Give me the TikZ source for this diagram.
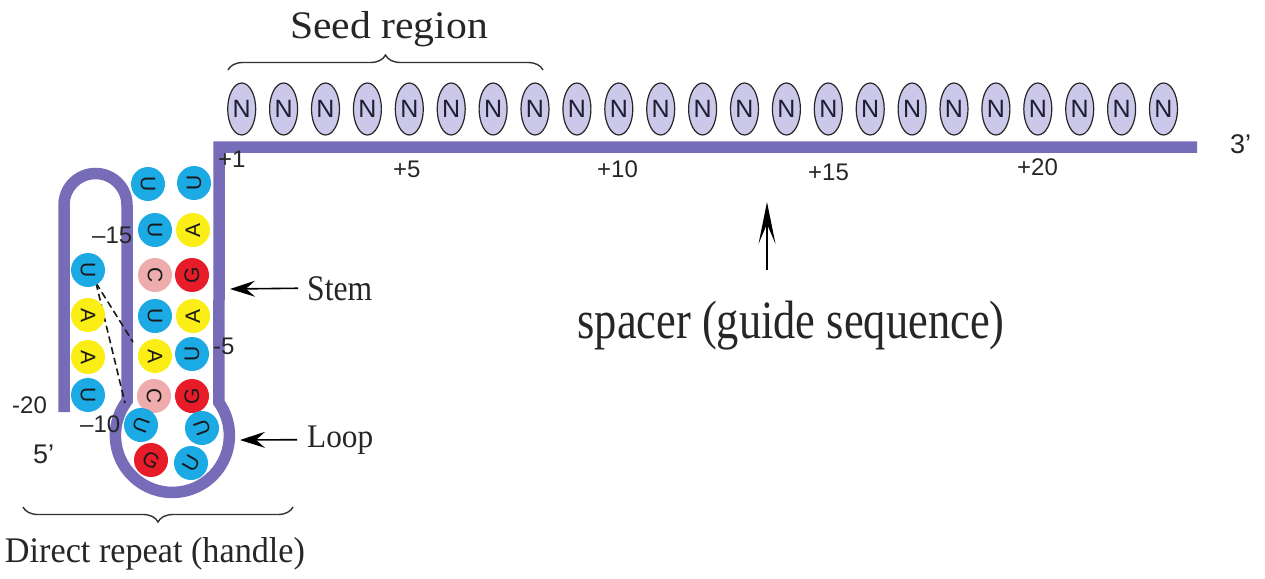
\documentclass[tikz,border=0pt]{standalone}
\usepackage{fontspec}
\setmainfont{Liberation Serif}
\setsansfont{Liberation Sans}
\usetikzlibrary{arrows.meta,decorations.pathreplacing,shapes.geometric}

\definecolor{strand}{RGB}{118,108,184}
\definecolor{ntlav}{RGB}{204,200,234}
\definecolor{ublue}{RGB}{28,170,228}
\definecolor{ayellow}{RGB}{250,238,22}
\definecolor{gred}{RGB}{232,28,40}
\definecolor{cpink}{RGB}{238,172,172}
\definecolor{inkdark}{RGB}{30,30,50}

\begin{document}
\begin{tikzpicture}[x=1pt,y=-1pt,
  strandline/.style={line width=11.5pt, draw=strand, line join=miter},
  nbase/.style={ellipse, draw=black!85, line width=1.2pt, fill=ntlav,
    minimum width=28pt, minimum height=52pt, inner sep=0pt,
    font=\sffamily\fontsize{25}{25}\selectfont, text=inkdark},
  nt/.style={circle, minimum size=34pt, inner sep=0pt,
    font=\sffamily\fontsize{21}{21}\selectfont, text=black!90},
  numlbl/.style={anchor=base west, inner sep=0pt,
    font=\sffamily\fontsize{24}{24}\selectfont, text=black!85},
  serif/.style={inner sep=0pt, text=black!85},
  ptr/.style={line width=1.6pt, -{Stealth[length=25pt,width=16pt,inset=9pt]}},
  uptr/.style={line width=1.5pt, -{Stealth[length=42pt,width=17pt,inset=20pt]}},
  pairdash/.style={line width=1.6pt, dash pattern=on 7pt off 4pt, black!90},
  bracket/.style={line width=1.4pt, black!80,
    decorate, decoration={brace, amplitude=15pt}}
]
\useasboundingbox (0,0) rectangle (1265,578);

% RNA backbone: 5' hairpin, loop, stem and spacer
\draw[strandline] (64,412) -- (64,205)
  arc[start angle=180, end angle=360, radius=31.5] -- (127,401)
  arc[start angle=217.2, end angle=-35.4, radius=57] -- (219.2,147)
  -- (1197,147);

% base-pair dashes
\coordinate (dA) at (96,283);
\coordinate (dB) at (133,342);
\coordinate (dC) at (125,403);
\draw[pairdash] (dA) -- (dB);
\draw[pairdash] (dA) -- (dC);

% repeat nucleotides
\foreach \x/\y/\l/\c/\r [count=\i] in {
  148/184/U/ublue/-90, 155/230/U/ublue/-90, 155/275/C/cpink/-90,
  155/316/U/ublue/-90, 155/356/A/ayellow/-90, 154/396/C/cpink/-90,
  194/183/U/ublue/90, 193/230/A/ayellow/90, 192/275/G/gred/90,
  193/316/A/ayellow/90, 192/354/U/ublue/90, 192/396/G/gred/90,
  141/425/U/ublue/-110, 202/428/U/ublue/110, 151/460/G/gred/-30,
  191/463/U/ublue/60,
  88/270/U/ublue/-90, 88/315/A/ayellow/-90, 88/357/A/ayellow/-90,
  88/395/U/ublue/-90}
  \node[nt, fill=\c, rotate=\r] (nt\i) at (\x,\y) {\l};

% spacer nucleotides
\foreach \i in {0,...,22}
  \node[nbase] (n\i) at ({241.7+41.9*\i},109) {N};

% position numbers
\node[numlbl] (p20) at (12,413) {-20};
\node[numlbl] (p15) at (92,243) {–15};
\node[numlbl] (p10) at (80,432) {–10};
\node[numlbl] (p5) at (213,354) {-5};
\node[numlbl] (q1) at (218,167) {+1};
\node[numlbl] (q5) at (393,177) {+5};
\node[numlbl] (q10) at (597,177) {+10};
\node[numlbl] (q15) at (808,180) {+15};
\node[numlbl] (q20) at (1017,175) {+20};
\node[numlbl, font=\sffamily\fontsize{27}{27}\selectfont] (end3) at (1230,153) {3’};
\node[numlbl, font=\sffamily\fontsize{27}{27}\selectfont] (end5) at (33,463) {5’};

% braces and titles
\coordinate (sb1) at (228,70);
\coordinate (sb2) at (543,70);
\draw[bracket] (sb1) -- (sb2);
\node[serif, anchor=base] (seedlbl) at (389,38)
  {\resizebox{198pt}{\height}{\fontsize{39}{39}\selectfont Seed region}};

\coordinate (db1) at (293,507);
\coordinate (db2) at (23,507);
\draw[bracket] (db1) -- (db2);
\node[serif, anchor=base] (drlbl) at (155,562)
  {\resizebox{300pt}{\height}{\fontsize{36}{36}\selectfont Direct repeat (handle)}};

% stem and loop pointers
\node[serif, anchor=base west] (stemlbl) at (307,300)
  {\resizebox{65pt}{\height}{\fontsize{36}{36}\selectfont Stem}};
\coordinate (stemtip) at (230,289);
\draw[ptr] ([xshift=-9pt]stemlbl.west) -- (stemtip);

\node[serif, anchor=base west] (looplbl) at (307,447)
  {\resizebox{66pt}{\height}{\fontsize{33}{33}\selectfont Loop}};
\coordinate (looptip) at (240,440);
\draw[ptr] ([xshift=-10pt]looplbl.west) -- (looptip);

% spacer label
\node[serif, anchor=base] (spacerlbl) at (791,338)
  {\resizebox{427pt}{\height}{\fontsize{54}{54}\selectfont spacer (guide sequence)}};
\coordinate (spacertail) at (767,270);
\coordinate (spacertip) at (767,202);
\draw[uptr] (spacertail) -- (spacertip);
\end{tikzpicture}
\end{document}
